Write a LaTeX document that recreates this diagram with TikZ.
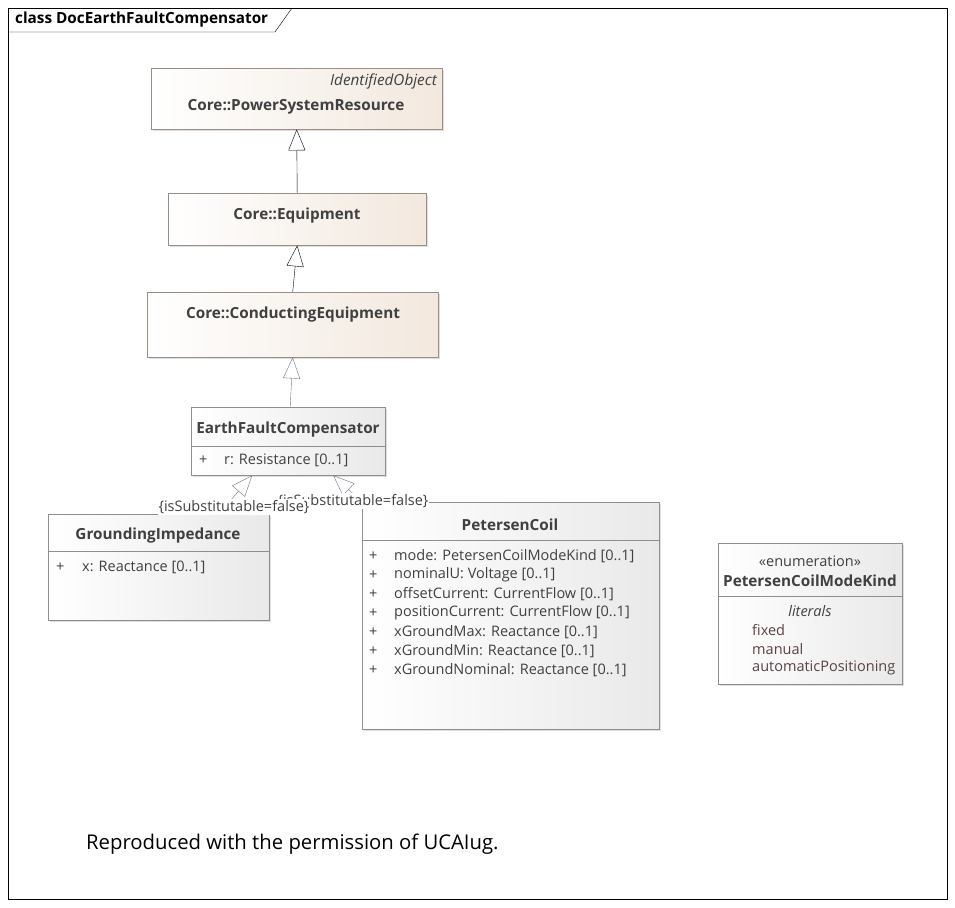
\documentclass[tikz,border=0pt]{standalone}
\usepackage{fontspec}
\setmainfont{Open Sans}
\usetikzlibrary{arrows.meta,shadows}
\definecolor{coreline}{HTML}{9C8E86}
\definecolor{corefill}{HTML}{F2E8DE}
\definecolor{clsline}{HTML}{8E8E8E}
\definecolor{clsfill}{HTML}{E9E9E9}
\definecolor{txt}{HTML}{404040}
\definecolor{littxt}{HTML}{5A4242}
\definecolor{genline}{HTML}{707088}
\begin{document}
\begin{tikzpicture}[
      x=1pt, y=-1pt,
      font=\fontsize{14.5}{17}\selectfont,
      core/.style={
          rectangle, anchor=north west, draw=coreline,
          left color=white, right color=corefill,
          drop shadow={shadow xshift=2pt, shadow yshift=-2pt, opacity=0.25},
        },
      cls/.style={
          rectangle, anchor=north west, draw=clsline,
          left color=white, right color=clsfill,
          drop shadow={shadow xshift=2pt, shadow yshift=-2pt, opacity=0.25},
        },
      clsname/.style={font=\fontsize{15.3}{18}\selectfont\bfseries, text=txt, inner sep=0pt, yshift=-2pt},
      attr/.style={anchor=west, text=txt, inner sep=0pt, yshift=-1pt},
      litrow/.style={anchor=west, text=littxt, inner sep=0pt, yshift=-1pt},
      gen/.style={-{Triangle[open, fill=white, length=21pt, width=17pt]}},
      cons/.style={text=txt, inner sep=1pt, fill=white},
    ]
    \useasboundingbox (0,0) rectangle (955,907);
    % frame
    \draw[black] (8,8) rectangle (947,899);
    \draw[black] (8,32) -- (275,32) -- (292,8);
    \node[anchor=west, inner sep=0pt, font=\fontsize{15.3}{18}\selectfont\bfseries] (title) at (15,20) {class DocEarthFaultCompensator};

    % classes
    \node[core, minimum width=291pt, minimum height=61pt] (psr) at (151,68) {};
    \node[core, minimum width=258pt, minimum height=52pt] (eq) at (168,193) {};
    \node[core, minimum width=291pt, minimum height=65pt] (ce) at (147,292) {};
    \node[cls, minimum width=194pt, minimum height=68pt] (efc) at (191,407) {};
    \node[cls, minimum width=221pt, minimum height=106pt] (gi) at (48,514) {};
    \node[cls, minimum width=297pt, minimum height=227pt] (pc) at (362,502) {};
    \node[cls, minimum width=184pt, minimum height=141pt] (pcmk) at (718,543) {};

    % compartments
    \draw[clsline] ([yshift=-39pt]efc.north west) -- ([yshift=-39pt]efc.north east);
    \draw[clsline] ([yshift=-37pt]gi.north west) -- ([yshift=-37pt]gi.north east);
    \draw[clsline] ([yshift=-38pt]pc.north west) -- ([yshift=-38pt]pc.north east);
    \draw[clsline] ([yshift=-53pt]pcmk.north west) -- ([yshift=-53pt]pcmk.north east);

    % texts
    \node[anchor=east, inner sep=0pt, text=txt, font=\fontsize{15.3}{18}\selectfont\itshape] (psrst) at (437,81) {IdentifiedObject};
    \node[clsname] (psrn) at (296,105) {Core::PowerSystemResource};
    \node[clsname] (eqn) at (297,214) {Core::Equipment};
    \node[clsname] (cen) at (293,313) {Core::ConductingEquipment};
    \node[clsname] (efcn) at (288,428) {EarthFaultCompensator};
    \node[attr] (efcp) at (199,459) {+};
    \node[attr] (efca) at (224,459) {r: Resistance [0..1]};
    \node[clsname] (gin) at (158,534) {GroundingImpedance};
    \node[attr] (gip) at (56,566) {+};
    \node[attr] (gia) at (82,566) {x: Reactance [0..1]};
    \node[clsname] (pcn) at (510,523) {PetersenCoil};
    \foreach \i/\t in {0/mode: PetersenCoilModeKind [0..1],
        1/nominalU: Voltage [0..1],
        2/offsetCurrent: CurrentFlow [0..1],
        3/positionCurrent: CurrentFlow [0..1],
        4/xGroundMax: Reactance [0..1],
        5/xGroundMin: Reactance [0..1],
        6/xGroundNominal: Reactance [0..1]} {
        \node[attr] (pcp\i) at (369,555+19*\i) {+};
        \node[attr] (pca\i) at (394,555+19*\i) {\t};
      }
    \node[inner sep=0pt, text=txt] (pcmks) at (810,561) {«enumeration»};
    \node[clsname] (pcmkn) at (810,579) {PetersenCoilModeKind};
    \node[inner sep=0pt, text=txt, font=\fontsize{14.5}{17}\selectfont\itshape] (pcmkl) at (810,611) {literals};
    \node[litrow] (l0) at (752,629) {fixed};
    \node[litrow] (l1) at (752,648) {manual};
    \node[litrow] (l2) at (752,667) {automaticPositioning};

    % generalizations
    \draw[gen, black] (eq.north) -- (psr.south);
    \draw[gen, black] (ce.north) -- (eq.south);
    \draw[gen, genline] ([xshift=2pt]efc.north) -- (ce.south);
    \draw[gen, genline] ([xshift=60pt]gi.north) -- ([xshift=-36pt]efc.south);
    \draw[gen, genline] (pc.north west) -- ([xshift=45pt]efc.south);
    \node[cons] (pcc) at (353,501) {\{isSubstitutable=false\}};
    \node[cons] (gic) at (234,507) {\{isSubstitutable=false\}};

    \node[anchor=west, inner sep=0pt, font=\fontsize{20.3}{24}\selectfont] (note) at (86,844) {Reproduced with the permission of UCAIug.};
  \end{tikzpicture}
\end{document}
